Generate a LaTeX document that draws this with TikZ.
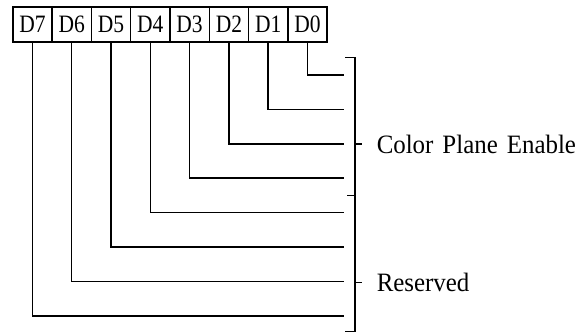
\documentclass[tikz,border=0pt]{standalone}
\usepackage{fontspec}
\setmainfont{Liberation Serif}
\newfontfamily\cellfont[FakeStretch=0.86]{Liberation Serif}
\newfontfamily\lblfont[FakeStretch=0.94]{Liberation Serif}
\begin{document}
\begin{tikzpicture}[x=1pt,y=-1pt,line width=1.5pt,
  bitcell/.style={draw,rectangle,minimum width=39.3pt,minimum height=35pt,inner sep=0pt,anchor=north west,font=\cellfont\fontsize{25}{27}\selectfont},
  lbl/.style={anchor=west,inner sep=0pt,font=\lblfont\fontsize{26.5}{30}\selectfont}]
\useasboundingbox (0,0) rectangle (587,333);
\foreach \k/\b in {0/7,1/6,2/5,3/4,4/3,5/2,6/1,7/0}{
  \node[bitcell] (d\b) at ({12+39.3*\k},6) {D\b};
}
\foreach \b in {0,...,7}{
  \coordinate (e\b) at (344,{75+34.4*\b});
  \draw (d\b.south) |- (e\b);
}
% brackets
\coordinate (bt) at (345,57.5);
\coordinate (bm) at (355,195.5);
\coordinate (bb) at (345,331.5);
\coordinate (bmL) at (347,195.5);
\draw (bt) -- (355,57.5) -- (bm) -- (bmL);
\draw (bm) -- (355,331.5) -- (bb);
\coordinate (t1) at (355,144);
\coordinate (t2) at (355,282.7);
\node[lbl] (cpe) at (376,144) {\spaceskip=9pt Color Plane Enable};
\node[lbl] (res) at (376,282.7) {Reserved};
\draw (t1) -- (362,144);
\draw (t2) -- (362,282.7);
\end{tikzpicture}
\end{document}
